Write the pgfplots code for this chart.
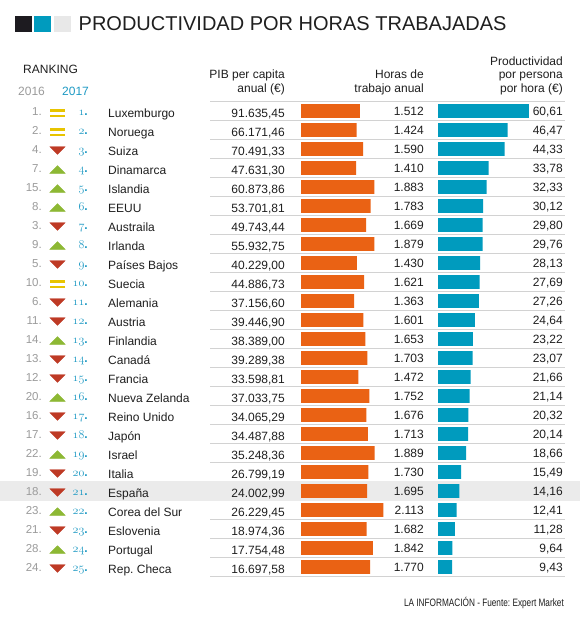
\documentclass[border=0pt]{standalone}
\usepackage{graphicx}
\usepackage{pgfplots}
\usepackage{pgfplotstable}
\pgfplotsset{compat=1.18}
\usepackage{fontspec}
\setmainfont{Liberation Sans}
\frenchspacing
\definecolor{orangec}{HTML}{EA6214}
\definecolor{bluec}{HTML}{009BBE}
\definecolor{rankblue}{HTML}{1E9AC4}
\definecolor{greenc}{HTML}{8DB834}
\definecolor{redc}{HTML}{BE3A25}
\definecolor{yellowc}{HTML}{E8C400}
\definecolor{txt}{HTML}{1F1F1F}
\definecolor{gray16}{HTML}{9B9B9B}
\definecolor{sepc}{HTML}{D2D2D2}
\definecolor{bandc}{HTML}{EBEBEB}
\definecolor{darksq}{HTML}{1D1B20}
\definecolor{graysq}{HTML}{E8E8E8}
\newcommand{\rowfont}{\fontsize{12}{14}\selectfont}
\newcommand{\osf}{\fontsize{13.2}{14}\usefont{OML}{lmm}{b}{it}}

\pgfplotstableread[col sep=semicolon]{
i;r16;ch;name;pib;h;hs;p;ps
1;1;0;Luxemburgo;91.635,45;1512;1.512;60.61;60,61
2;2;0;Noruega;66.171,46;1424;1.424;46.47;46,47
3;4;-1;Suiza;70.491,33;1590;1.590;44.33;44,33
4;7;1;Dinamarca;47.631,30;1410;1.410;33.78;33,78
5;15;1;Islandia;60.873,86;1883;1.883;32.33;32,33
6;8;1;EEUU;53.701,81;1783;1.783;30.12;30,12
7;3;-1;Austraila;49.743,44;1669;1.669;29.80;29,80
8;9;1;Irlanda;55.932,75;1879;1.879;29.76;29,76
9;5;-1;Países Bajos;40.229,00;1430;1.430;28.13;28,13
10;10;0;Suecia;44.886,73;1621;1.621;27.69;27,69
11;6;-1;Alemania;37.156,60;1363;1.363;27.26;27,26
12;11;-1;Austria;39.446,90;1601;1.601;24.64;24,64
13;14;1;Finlandia;38.389,00;1653;1.653;23.22;23,22
14;13;-1;Canadá;39.289,38;1703;1.703;23.07;23,07
15;12;-1;Francia;33.598,81;1472;1.472;21.66;21,66
16;20;1;Nueva Zelanda;37.033,75;1752;1.752;21.14;21,14
17;16;-1;Reino Unido;34.065,29;1676;1.676;20.32;20,32
18;17;-1;Japón;34.487,88;1713;1.713;20.14;20,14
19;22;1;Israel;35.248,36;1889;1.889;18.66;18,66
20;19;-1;Italia;26.799,19;1730;1.730;15.49;15,49
21;18;-1;España;24.002,99;1695;1.695;14.16;14,16
22;23;1;Corea del Sur;26.229,45;2113;2.113;12.41;12,41
23;21;-1;Eslovenia;18.974,36;1682;1.682;11.28;11,28
24;28;1;Portugal;17.754,48;1842;1.842;9.64;9,64
25;24;-1;Rep. Checa;16.697,58;1770;1.770;9.43;9,43
}\data

\pgfplotsset{pix/.style={scale only axis, width=580pt, height=620pt,
  at={(0pt,0pt)}, anchor=north west, ymin=0, ymax=620, y dir=reverse,
  hide axis, clip=false}}

\begin{document}
\begin{tikzpicture}
\useasboundingbox (0,0) rectangle (580pt,-620pt);
\fill[white] (0,0) rectangle (580pt,-620pt);
% pixel frame: separators, band, title squares, rank markers
\begin{axis}[pix, xmin=0, xmax=580]
  \pgfplotsinvokeforeach{0,...,25}{
    \draw[sepc, line width=0.8pt] (210,{101+19*#1}) -- (565,{101+19*#1});
  }
  \fill[bandc] (0,481.3) rectangle (580,501);
  \fill[darksq] (15,16) rectangle (31.7,32.3);
  \fill[bluec] (34.3,16) rectangle (51,32.3);
  \fill[graysq] (54.3,16) rectangle (71,32.3);
  % up triangles
  \addplot[only marks, mark=triangle*, mark size=5.1pt,
    mark options={xscale=1.74, fill=greenc, draw=greenc, line width=0.3pt},
    restrict expr to domain={\thisrow{ch}}{0.5:1.5}]
    table[x expr=57.5, y expr=94.8+19*\thisrow{i}] {\data};
  % down triangles
  \addplot[only marks, mark=triangle*, mark size=5.1pt,
    mark options={rotate=180, xscale=1.74, fill=redc, draw=redc, line width=0.3pt},
    restrict expr to domain={\thisrow{ch}}{-1.5:-0.5}]
    table[x expr=57.5, y expr=92.2+19*\thisrow{i}] {\data};
  % equal signs
  \addplot[only marks, mark=-, mark size=7.6pt,
    mark options={line width=2.7pt, draw=yellowc},
    restrict expr to domain={\thisrow{ch}}{-0.5:0.5}]
    table[x expr=57.6, y expr=91.3+19*\thisrow{i}] {\data};
  \addplot[only marks, mark=-, mark size=7.6pt,
    mark options={line width=2.7pt, draw=yellowc},
    restrict expr to domain={\thisrow{ch}}{-0.5:0.5}]
    table[x expr=57.6, y expr=97+19*\thisrow{i}] {\data};
\end{axis}
% orange bars: 0.039 px per hour, starting at x=301
\begin{axis}[pix, xmin=-7717.95, xmax=7153.85, xbar, bar width=13.6pt]
  \addplot[fill=orangec, draw=none] table[x=h, y expr=92+19*\thisrow{i}] {\data};
\end{axis}
% blue bars: 1.5 px per unit, starting at x=438
\begin{axis}[pix, xmin=-292, xmax=94.6667, xbar, bar width=13.6pt]
  \addplot[fill=bluec, draw=none] table[x=p, y expr=92+19*\thisrow{i}] {\data};
\end{axis}
% title and headers
\node[anchor=base west, inner sep=0pt, text=txt, font=\fontsize{20}{24}\selectfont] at (78.5pt,-30.7pt) {PRODUCTIVIDAD POR HORAS TRABAJADAS};
\node[anchor=base west, inner sep=0pt, text=txt, font=\rowfont] at (23pt,-74pt) {RANKING};
\node[anchor=base west, inner sep=0pt, text=gray16, font=\rowfont] at (18pt,-95.7pt) {2016};
\node[anchor=base west, inner sep=0pt, text=rankblue, font=\rowfont] at (62pt,-95.7pt) {2017};
\node[anchor=base east, inner sep=0pt, text=txt, font=\rowfont] at (285pt,-79pt) {PIB per capita};
\node[anchor=base east, inner sep=0pt, text=txt, font=\rowfont] at (285pt,-92.3pt) {anual (€)};
\node[anchor=base east, inner sep=0pt, text=txt, font=\rowfont] at (424pt,-79pt) {Horas de};
\node[anchor=base east, inner sep=0pt, text=txt, font=\rowfont] at (424pt,-92.3pt) {trabajo anual};
\node[anchor=base east, inner sep=0pt, text=txt, font=\rowfont] at (563pt,-65.7pt) {Productividad};
\node[anchor=base east, inner sep=0pt, text=txt, font=\rowfont] at (563pt,-79pt) {por persona};
\node[anchor=base east, inner sep=0pt, text=txt, font=\rowfont] at (563pt,-92.3pt) {por hora (€)};
% row texts
\pgfplotstableforeachcolumnelement{r16}\of\data\as\cell{%
  \node[anchor=base east, inner sep=0pt, text=gray16, font=\fontsize{11.5}{13}\selectfont] at (42pt,{-115.7pt-19pt*\pgfplotstablerow}) {\cell.};
}
\pgfplotstableforeachcolumnelement{i}\of\data\as\cell{%
  \node[anchor=base east, inner sep=0pt, text=rankblue] at (88pt,{-115.9pt-19pt*\pgfplotstablerow}) {{\osf\cell}{\rowfont\bfseries.}};
}
\pgfplotstableforeachcolumnelement{name}\of\data\as\cell{%
  \node[anchor=base west, inner sep=0pt, text=txt, font=\rowfont] at (108pt,{-117.3pt-19pt*\pgfplotstablerow}) {\cell};
}
\pgfplotstableforeachcolumnelement{pib}\of\data\as\cell{%
  \node[anchor=base east, inner sep=0pt, text=txt, font=\rowfont] at (285pt,{-117.3pt-19pt*\pgfplotstablerow}) {\cell};
}
\pgfplotstableforeachcolumnelement{hs}\of\data\as\cell{%
  \node[anchor=base east, inner sep=0pt, text=txt, font=\rowfont] at (424pt,{-115.6pt-19pt*\pgfplotstablerow}) {\cell};
}
\pgfplotstableforeachcolumnelement{ps}\of\data\as\cell{%
  \node[anchor=base east, inner sep=0pt, text=txt, font=\rowfont] at (563pt,{-115.6pt-19pt*\pgfplotstablerow}) {\cell};
}
% footer
\node[anchor=base east, inner sep=0pt, text=txt] at (564pt,-606pt) {\scalebox{0.77}[1]{\fontsize{10.7}{12}\selectfont LA INFORMACIÓN - Fuente: Expert Market}};
\end{tikzpicture}
\end{document}
